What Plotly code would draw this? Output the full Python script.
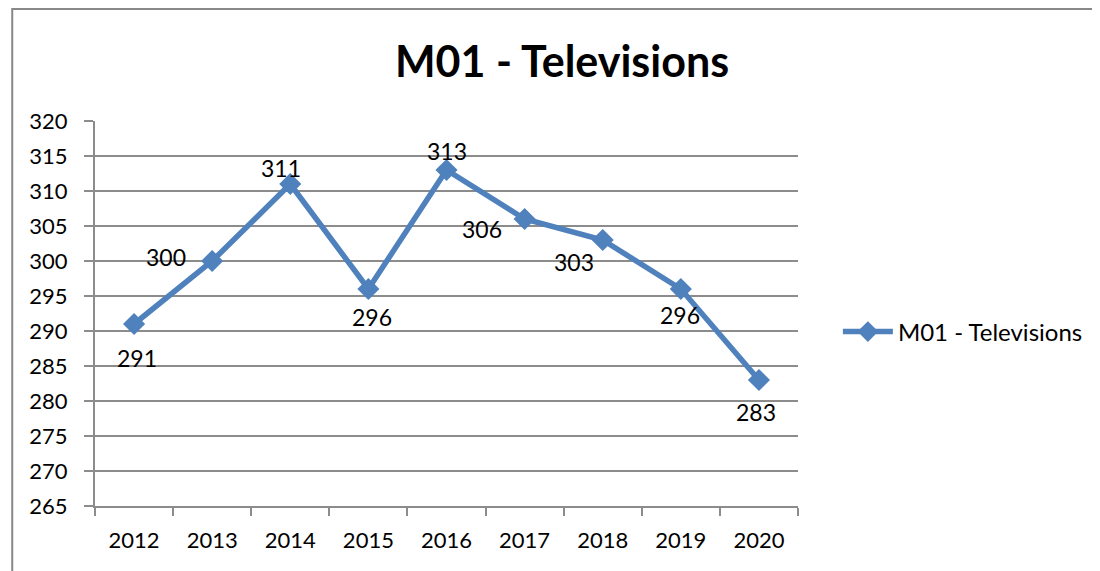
import plotly.graph_objects as go

years = ["2012", "2013", "2014", "2015", "2016", "2017", "2018", "2019", "2020"]
values = [291, 300, 311, 296, 313, 306, 303, 296, 283]

# pixel offsets of each data label from its point (Excel auto placement)
label_dx = [3, -46, -9, 4, 0, -43, -29, -1, -3]
label_dy = [-34, 4, 16, -28, 19, -10, -22, -26, -32]

series_name = "M01 - Televisions"
blue = "#4F81BD"
grid = "#8C8C8C"
font_family = "Lato, Open Sans, sans-serif"

fig = go.Figure()
fig.add_trace(go.Scatter(
    x=years, y=values, name=series_name,
    mode="lines+markers",
    line=dict(color=blue, width=5.5),
    marker=dict(symbol="diamond", size=17, color=blue),
    cliponaxis=False,
))

# category axis: annotation x is given as the category index
for i, (v, dx, dy) in enumerate(zip(values, label_dx, label_dy)):
    fig.add_annotation(x=i, y=v, text=str(v), showarrow=False,
                       xshift=dx, yshift=dy,
                       font=dict(size=23, color="black", family=font_family))

# the page puts the plot div 8px in from the top-left corner
W, H = 1092, 563
L, T = 87, 113
pw, ph = 705, 385
R, B = W - L - pw, H - T - ph

fig.update_layout(
    width=W, height=H,
    margin=dict(l=L, r=R, t=T, b=B),
    paper_bgcolor="white", plot_bgcolor="white",
    font=dict(family=font_family, size=22, color="black"),
    title=dict(text="<b>M01 - Televisions</b>", x=554 / W, xanchor="center",
               y=1 - 54 / H, yanchor="middle", font=dict(size=43, color="black")),
    showlegend=True,
    legend=dict(x=(832 - L) / pw, y=0.452, xanchor="left", yanchor="middle",
                font=dict(size=24), itemwidth=50, bgcolor="rgba(0,0,0,0)"),
    xaxis=dict(type="category", range=[-0.5, 8.5], showgrid=False,
               showline=True, linecolor=grid, linewidth=2,
               ticks="outside", tickson="boundaries", ticklen=8, tickwidth=2,
               tickcolor=grid, tickfont=dict(size=22), ticklabelstandoff=14),
    yaxis=dict(range=[265, 320], dtick=5, showgrid=True, gridcolor=grid, gridwidth=2,
               showline=True, linecolor=grid, linewidth=2, zeroline=False,
               ticks="outside", ticklen=9, tickwidth=2, tickcolor=grid,
               tickfont=dict(size=22), ticklabelstandoff=12),
    shapes=[dict(type="rect", xref="paper", yref="paper",
                 x0=(4 - L) / pw, x1=(1250 - L) / pw,
                 y0=-(700 - T - ph) / ph, y1=1 + (T - 1) / ph,
                 line=dict(color="#888888", width=2), layer="below")],
)

fig.write_html("out.html")
